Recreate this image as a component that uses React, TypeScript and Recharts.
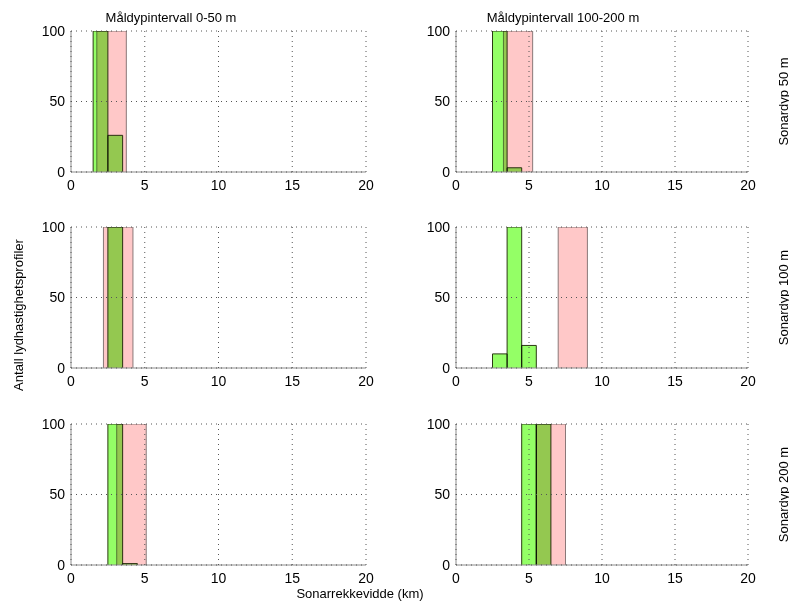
import React from 'react';
import { ComposedChart, Area, XAxis, YAxis, CartesianGrid } from 'recharts';

// Histogram bins: [from km, to km] with count of sound-speed profiles
type Bin = { from: number; to: number; count: number };

const rangeTicks = [0, 5, 10, 15, 20];
const countTicks = [0, 50, 100];

const columnTitles = ['Måldypintervall 0-50 m', 'Måldypintervall 100-200 m'];
const rowLabels = ['Sonardyp 50 m', 'Sonardyp 100 m', 'Sonardyp 200 m'];
const yAxisTitle = 'Antall lydhastighetsprofiler';
const xAxisTitle = 'Sonarrekkevidde (km)';

// Sonar depth 50 m
const sonar50Shallow_green: Bin[] = [
  { from: 1.5, to: 2.5, count: 100 },
  { from: 2.5, to: 3.5, count: 26 },
];
const sonar50Shallow_pink: Bin[] = [{ from: 1.75, to: 3.75, count: 100 }];
const sonar50Deep_green: Bin[] = [
  { from: 2.5, to: 3.5, count: 100 },
  { from: 3.5, to: 4.5, count: 3 },
];
const sonar50Deep_pink: Bin[] = [{ from: 3.25, to: 5.25, count: 100 }];

// Sonar depth 100 m
const sonar100Shallow_green: Bin[] = [{ from: 2.5, to: 3.5, count: 100 }];
const sonar100Shallow_pink: Bin[] = [{ from: 2.2, to: 4.2, count: 100 }];
const sonar100Deep_green: Bin[] = [
  { from: 2.5, to: 3.5, count: 10 },
  { from: 3.5, to: 4.5, count: 100 },
  { from: 4.5, to: 5.5, count: 16 },
];
const sonar100Deep_pink: Bin[] = [{ from: 7, to: 9, count: 100 }];

// Sonar depth 200 m
const sonar200Shallow_green: Bin[] = [
  { from: 2.5, to: 3.5, count: 100 },
  { from: 3.5, to: 4.5, count: 1 },
];
const sonar200Shallow_pink: Bin[] = [{ from: 3.1, to: 5.1, count: 100 }];
const sonar200Deep_green: Bin[] = [
  { from: 4.5, to: 5.5, count: 100 },
  { from: 5.5, to: 6.5, count: 100 },
];
const sonar200Deep_pink: Bin[] = [{ from: 5.5, to: 7.5, count: 100 }];

const FONT = '"Liberation Sans", Arial, sans-serif';
const GREEN = '#94ff66';
const GREEN_EDGE = '#2c3a14';
const PINK = '#ffc8c8';
const PINK_EDGE = '#8a7878';
const AXIS = '#8c8c8c';

// Outline of one histogram bar as a closed step path
const binOutline = (b: Bin) => [
  { x: b.from, y: 0 },
  { x: b.from, y: b.count },
  { x: b.to, y: b.count },
  { x: b.to, y: 0 },
];

const PLOT_H = 141;
const MARGIN = { top: 10, right: 10, left: 0, bottom: 0 };
const Y_W = 50;
const X_H = 25;

function Panel({
  green,
  pink,
  left,
  top,
  plotWidth,
}: {
  green: Bin[];
  pink: Bin[];
  left: number;
  top: number;
  plotWidth: number;
}) {
  const width = Y_W + plotWidth + MARGIN.right;
  const height = MARGIN.top + PLOT_H + X_H;
  return (
    <div style={{ position: 'absolute', left, top }}>
      <ComposedChart width={width} height={height} margin={MARGIN}>
        <XAxis
          type="number"
          dataKey="x"
          domain={[0, 20]}
          ticks={rangeTicks}
          allowDataOverflow
          interval={0}
          height={X_H}
          tickLine={false}
          tickSize={6}
          axisLine={{ stroke: AXIS }}
          tick={{ fill: '#000', fontSize: 14, fontFamily: FONT }}
        />
        <YAxis
          type="number"
          domain={[0, 100]}
          ticks={countTicks}
          allowDataOverflow
          interval={0}
          width={Y_W}
          tickLine={false}
          tickSize={4}
          axisLine={{ stroke: AXIS }}
          tick={{ fill: '#000', fontSize: 14, fontFamily: FONT }}
        />
        {pink.map((b, i) => (
          <Area
            key={'pink' + i}
            data={binOutline(b)}
            dataKey="y"
            type="linear"
            fill={PINK}
            fillOpacity={1}
            stroke={PINK_EDGE}
            strokeWidth={1}
            dot={false}
            activeDot={false}
            isAnimationActive={false}
          />
        ))}
        {green.map((b, i) => (
          <Area
            key={'green' + i}
            className="green-bin"
            data={binOutline(b)}
            dataKey="y"
            type="linear"
            fill={GREEN}
            fillOpacity={1}
            stroke={GREEN_EDGE}
            strokeWidth={1}
            dot={false}
            activeDot={false}
            isAnimationActive={false}
          />
        ))}
        <CartesianGrid
          zIndex={1000}
          stroke="#555"
          strokeDasharray="1 4"
          horizontalValues={countTicks}
          verticalValues={rangeTicks}
        />
      </ComposedChart>
    </div>
  );
}

const LEFT_PLOT_X = 71;
const LEFT_PLOT_W = 295;
const RIGHT_PLOT_X = 456;
const RIGHT_PLOT_W = 292;
const ROW_PLOT_TOPS = [31, 227, 424];

const rows = [
  [sonar50Shallow_green, sonar50Shallow_pink, sonar50Deep_green, sonar50Deep_pink],
  [sonar100Shallow_green, sonar100Shallow_pink, sonar100Deep_green, sonar100Deep_pink],
  [sonar200Shallow_green, sonar200Shallow_pink, sonar200Deep_green, sonar200Deep_pink],
];

export default function App() {
  return (
    <div
      style={{
        position: 'absolute',
        left: 0,
        top: 0,
        width: 789,
        height: 605,
        background: '#fff',
        fontFamily: FONT,
      }}
    >
      <style>{`.recharts-area.green-bin { mix-blend-mode: multiply; }`}</style>
      {rows.map((r, i) => (
        <React.Fragment key={i}>
          <Panel
            green={r[0]}
            pink={r[1]}
            left={LEFT_PLOT_X - Y_W}
            top={ROW_PLOT_TOPS[i] - MARGIN.top}
            plotWidth={LEFT_PLOT_W}
          />
          <Panel
            green={r[2]}
            pink={r[3]}
            left={RIGHT_PLOT_X - Y_W}
            top={ROW_PLOT_TOPS[i] - MARGIN.top}
            plotWidth={RIGHT_PLOT_W}
          />
        </React.Fragment>
      ))}
      <svg
        width={789}
        height={605}
        style={{ position: 'absolute', left: 0, top: 0, pointerEvents: 'none' }}
        fontFamily={FONT}
        fontSize={13}
      >
        <text x={171} y={22} textAnchor="middle" fill="#000">
          {columnTitles[0]}
        </text>
        <text x={563} y={22} textAnchor="middle" fill="#000">
          {columnTitles[1]}
        </text>
        {rowLabels.map((lbl, i) => {
          const cy = ROW_PLOT_TOPS[i] + PLOT_H / 2;
          return (
            <text
              key={lbl}
              x={783}
              y={cy}
              textAnchor="middle"
              dominantBaseline="central"
              transform={`rotate(-90 783 ${cy})`}
              fill="#000"
            >
              {lbl}
            </text>
          );
        })}
        <text
          x={18}
          y={315}
          textAnchor="middle"
          dominantBaseline="central"
          transform="rotate(-90 18 315)"
          fill="#000"
        >
          {yAxisTitle}
        </text>
        <text x={360} y={593} textAnchor="middle" dominantBaseline="central" fill="#000">
          {xAxisTitle}
        </text>
      </svg>
    </div>
  );
}
